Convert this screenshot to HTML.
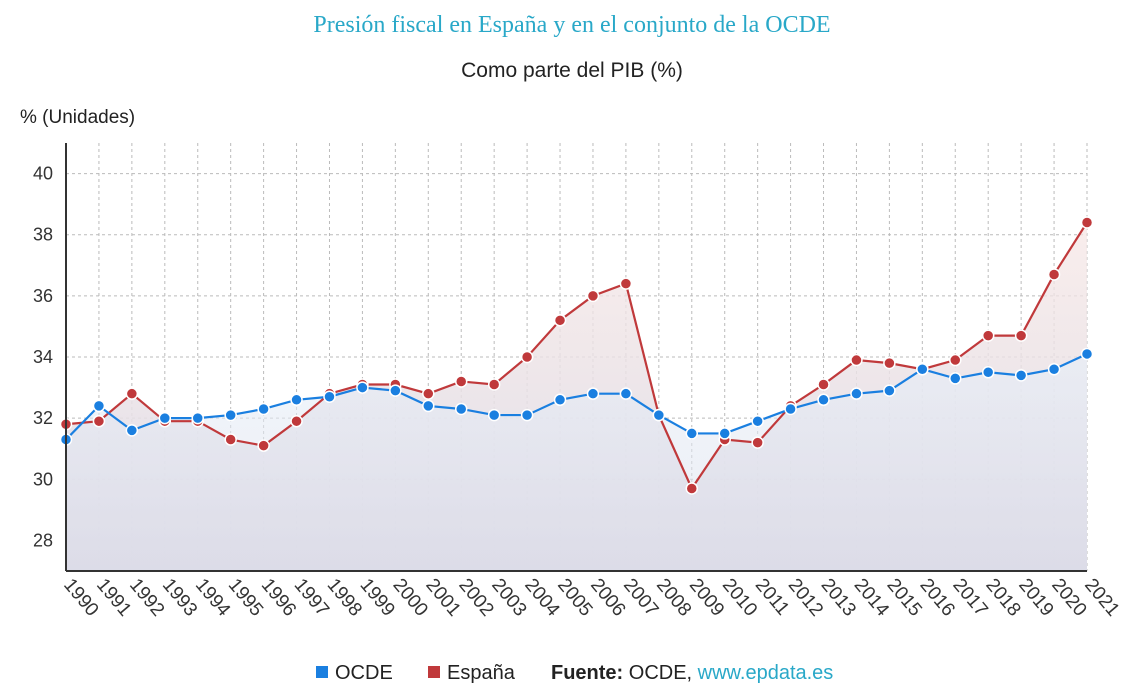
<!DOCTYPE html>
<html><head><meta charset="utf-8"><style>
body{margin:0;background:#fff;width:1134px;height:684px;overflow:hidden;font-family:"Liberation Sans",sans-serif}
</style></head><body>
<svg id="chart" width="1134" height="684" xmlns="http://www.w3.org/2000/svg">
<defs>
<linearGradient id="gE" x1="0" y1="0" x2="0" y2="1"><stop offset="0" stop-color="#f6e6e4" stop-opacity="0.7"/><stop offset="1" stop-color="#dcdce8"/></linearGradient>
<linearGradient id="gO" x1="0" y1="0" x2="0" y2="1"><stop offset="0" stop-color="#e6f0fa" stop-opacity="0.6"/><stop offset="1" stop-color="#dcdce8" stop-opacity="0.5"/></linearGradient>
</defs>
<text x="572" y="32" text-anchor="middle" font-family="Liberation Serif, serif" font-size="24" fill="#29a8c8">Presión fiscal en España y en el conjunto de la OCDE</text>
<text x="572" y="77" text-anchor="middle" font-size="21" fill="#222">Como parte del PIB (%)</text>
<text x="20" y="123" font-size="19" fill="#222">% (Unidades)</text>
<g id="grid"></g><g id="areas"></g><g id="lines"></g><g id="pts"></g><g id="axes"></g>
<g font-size="20" fill="#222">
<rect x="316" y="666" width="12" height="12" fill="#1a7fe0"/>
<text x="335" y="679">OCDE</text>
<rect x="428" y="666" width="12" height="12" fill="#c0393b"/>
<text x="447" y="679">España</text>
<text x="551" y="679"><tspan font-weight="bold">Fuente:</tspan> OCDE, <tspan fill="#29a8c8">www.epdata.es</tspan></text>
</g>
</svg>
<script>
const years=[1990,1991,1992,1993,1994,1995,1996,1997,1998,1999,2000,2001,2002,2003,2004,2005,2006,2007,2008,2009,2010,2011,2012,2013,2014,2015,2016,2017,2018,2019,2020,2021];
const ocde=[31.3,32.4,31.6,32.0,32.0,32.1,32.3,32.6,32.7,33.0,32.9,32.4,32.3,32.1,32.1,32.6,32.8,32.8,32.1,31.5,31.5,31.9,32.3,32.6,32.8,32.9,33.6,33.3,33.5,33.4,33.6,34.1];
const espana=[31.8,31.9,32.8,31.9,31.9,31.3,31.1,31.9,32.8,33.1,33.1,32.8,33.2,33.1,34.0,35.2,36.0,36.4,32.1,29.7,31.3,31.2,32.4,33.1,33.9,33.8,33.6,33.9,34.7,34.7,36.7,38.4];
const yTicks=[28,30,32,34,36,38,40];
const X0=66,X1=1087,YMIN=27,YMAX=41,YB=571,YT=143;
const x=i=>X0+(X1-X0)*i/(years.length-1);
const y=v=>YB-(v-YMIN)*(YB-YT)/(YMAX-YMIN);
const NS="http://www.w3.org/2000/svg";
function mk(t,a,p){const e=document.createElementNS(NS,t);for(const k in a)e.setAttribute(k,a[k]);p.appendChild(e);return e;}
const grid=document.getElementById('grid'),axes=document.getElementById('axes');
years.forEach((yr,i)=>{
 const l=mk('line',{x1:x(i),x2:x(i),y1:YT,y2:YB,stroke:'#bbb','stroke-dasharray':'3,3'},grid);
 
 
 const tx=x(i)-3,ty=YB+14;
 const t=mk('text',{x:tx,y:ty,'font-size':19,fill:'#333','text-anchor':'start',transform:`rotate(50 ${tx} ${ty})`},axes);
 t.textContent=yr;
 
 
});
yTicks.forEach(v=>{
 const l=mk('line',{x1:X0,x2:X1,y1:y(v),y2:y(v),stroke:'#bbb','stroke-dasharray':'3,3'},grid);
 
 
 const t=mk('text',{x:53,y:y(v)+6,'font-size':18,fill:'#333','text-anchor':'end'},axes);
 t.textContent=v;
 
 
});
const ya=mk('line',{x1:X0,x2:X0,y1:YT,y2:YB,stroke:'#333','stroke-width':2},axes);


const xa=mk('line',{x1:X0,x2:X1,y1:YB,y2:YB,stroke:'#333','stroke-width':2},axes);


function series(vals,col,grad,name){
 const pts=vals.map((v,i)=>x(i)+','+y(v)).join(' ');
 const a=mk('polygon',{points:`${X0},${YB} ${pts} ${X1},${YB}`,fill:`url(#${grad})`},document.getElementById('areas'));
 
 
 const l=mk('polyline',{points:pts,fill:'none',stroke:col,'stroke-width':2.2},document.getElementById('lines'));
 
 
 vals.forEach((v,i)=>{
  const c=mk('circle',{cx:x(i),cy:y(v),r:5.5,fill:col,stroke:'#fff','stroke-width':1.5},document.getElementById('pts'));
  
  
 });
}
series(espana,'#c0393b','gE','espana');
series(ocde,'#1a7fe0','gO','ocde');
</script>
</body></html>
